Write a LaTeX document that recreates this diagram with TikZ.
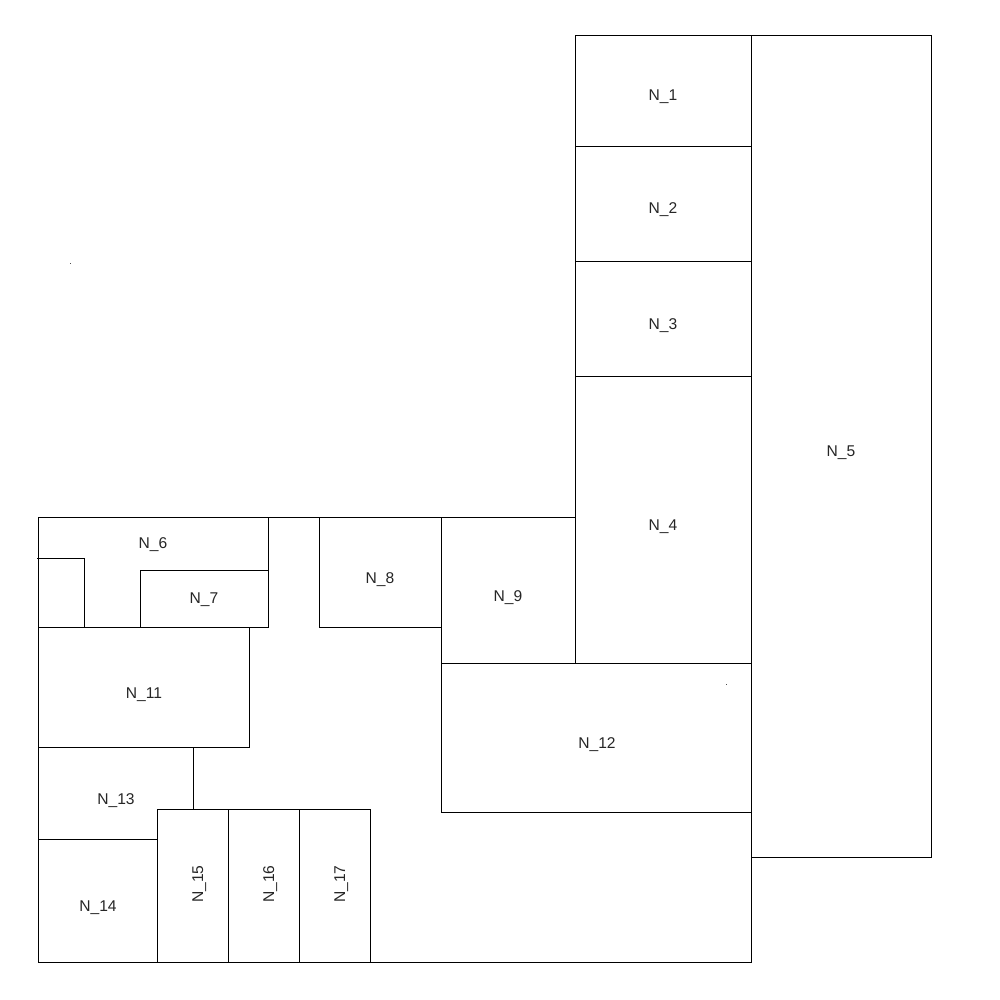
\documentclass[tikz,border=0pt]{standalone}
\usepackage{fontspec}
\setmainfont{Liberation Sans}
\tikzset{
  room/.style={draw=black,line width=1pt,fill=none},
  wall/.style={draw=black,line width=1pt,line cap=rect},
  lab/.style={font=\fontsize{15.6}{15.6}\selectfont,inner sep=0pt,anchor=base,text=black!85},
  vlab/.style={lab,rotate=90},
  speck/.style={fill=black!70,draw=none}
}
\begin{document}
\begin{tikzpicture}[x=1pt,y=-1pt,shift={(0.5,0.5)}]
\useasboundingbox[fill=white] (-0.5,-0.5) rectangle (999.5,999.5);
% right column
\path[room] (575,35) rectangle (751,146);
\path[room] (575,146) rectangle (751,261);
\path[room] (575,261) rectangle (751,376);
\path[room] (575,376) rectangle (751,663);
\path[room] (751,35) rectangle (931,857);
% upper-left block
\path[room] (38,517) rectangle (268,627);
\path[wall] (268,517) -- (575,517);
\path[wall] (37,558) -- (84,558) -- (84,627);
\path[room] (140,570) rectangle (268,627);
\path[room] (319,517) rectangle (441,627);
\path[room] (441,517) rectangle (575,663);
\path[room] (441,663) rectangle (751,812);
\path[room] (38,627) rectangle (249,747);
% lower-left block
\path[wall] (193,747) -- (193,809);
\path[wall] (38,747) -- (38,962) -- (751,962) -- (751,812);
\path[wall] (38,839) -- (157,839);
\path[room] (157,809) rectangle (228,962);
\path[room] (228,809) rectangle (299,962);
\path[room] (299,809) rectangle (370,962);
% specks
\path[speck] (69.5,262.5) rectangle (70.5,263.5);
\path[speck] (725.5,683.5) rectangle (726.5,684.5);
% labels
\node[lab] (n1) at (662.5,100.5) {N\_1};
\node[lab] (n2) at (662.5,213.5) {N\_2};
\node[lab] (n3) at (662.5,328.5) {N\_3};
\node[lab] (n4) at (662.5,529.5) {N\_4};
\node[lab] (n5) at (840.5,455.5) {N\_5};
\node[lab] (n6) at (152.5,547.5) {N\_6};
\node[lab] (n7) at (203.5,602.5) {N\_7};
\node[lab] (n8) at (379.5,582.5) {N\_8};
\node[lab] (n9) at (507.5,600.5) {N\_9};
\node[lab] (n11) at (143.5,697.5) {N\_11};
\node[lab] (n12) at (596.5,747.5) {N\_12};
\node[lab] (n13) at (115.5,803.5) {N\_13};
\node[lab] (n14) at (97.5,910.5) {N\_14};
\node[vlab] (n15) at (202.5,883.5) {N\_15};
\node[vlab] (n16) at (273.5,883.5) {N\_16};
\node[vlab] (n17) at (344.5,883.5) {N\_17};
\end{tikzpicture}
\end{document}
